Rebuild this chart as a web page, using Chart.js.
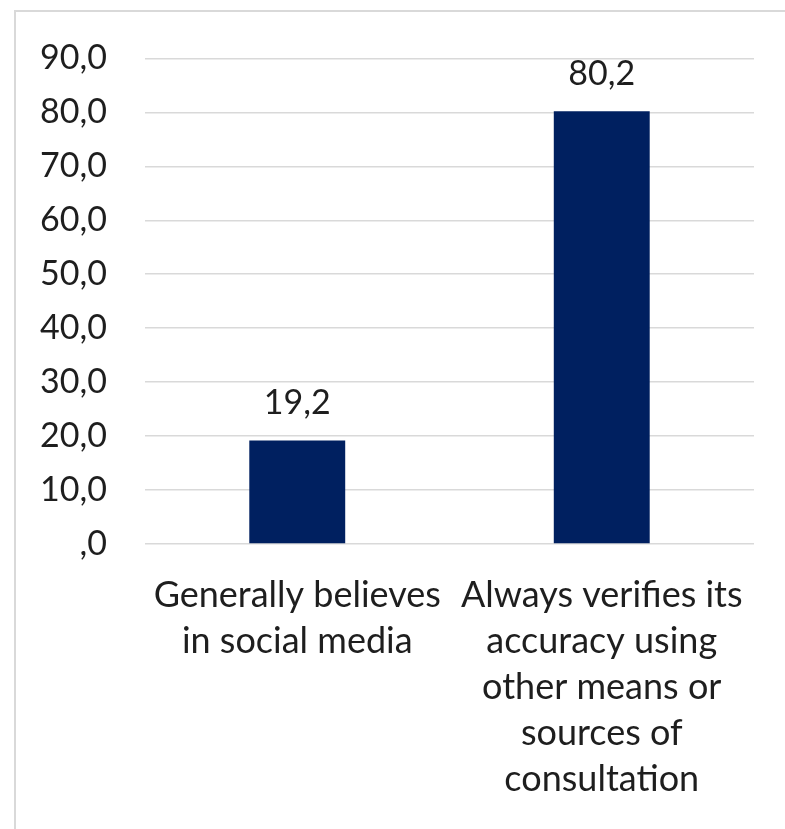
<!DOCTYPE html>
<html>
<head>
<meta charset="utf-8">
<script src="https://cdn.jsdelivr.net/npm/chart.js@4"></script>
<style>
  body { margin: 0; background: #fff; }
  #frame {
    position: absolute; left: 14px; top: 10px; width: 820px; height: 860px;
    border-left: 2px solid #d9d9d9; border-top: 2px solid #d9d9d9;
  }
  #wrap { position: absolute; left: 0; top: 0; width: 785px; height: 829px; overflow: hidden; }
</style>
</head>
<body>
<div id="wrap">
  <div id="frame"></div>
  <canvas id="chart" width="785" height="829" style="position:absolute;left:0;top:0;"></canvas>
</div>
<script>
let categories = [
    ["Generally believes", "in social media"],
    ["Always verifies its", "accuracy using", "other means or", "sources of", "consultation"]
];
let values = [19.2, 80.2];
let yTicks = [0, 10, 20, 30, 40, 50, 60, 70, 80, 90];

function fmt(v, d) {
    if (v === 0) return ',0';
    return v.toFixed(d).replace('.', ',');
}

let fontFam = "Lato, 'Liberation Sans', sans-serif";
let txtCol = '#1e1e1e';

// draws the value above each bar
let barLabels = {
    id: 'barLabels',
    afterDatasetsDraw: function(chart) {
        let ctx = chart.ctx;
        let meta = chart.getDatasetMeta(0);
        ctx.save();
        ctx.font = '34px ' + fontFam;
        ctx.fillStyle = txtCol;
        ctx.textAlign = 'center';
        ctx.textBaseline = 'middle';
        meta.data.forEach(function(bar, i) {
            ctx.fillText(fmt(values[i], 1), bar.x, bar.y - 37);
        });
        ctx.restore();
    }
};

var ctx = document.getElementById('chart').getContext('2d');
var chart = new Chart(ctx, {
    type: 'bar',
    data: {
        labels: categories,
        datasets: [{
            data: values,
            backgroundColor: '#002060',
            borderWidth: 0,
            categoryPercentage: 1,
            barPercentage: 0.315
        }]
    },
    options: {
        responsive: false,
        animation: false,
        layout: { padding: { left: 0, right: 31, top: 55, bottom: 0 } },
        plugins: {
            legend: { display: false },
            tooltip: { enabled: false }
        },
        scales: {
            x: {
                grid: { display: false },
                border: { display: false },
                ticks: {
                    color: txtCol,
                    font: { family: fontFam, size: 36, lineHeight: 1.28 },
                    padding: 20,
                    maxRotation: 0,
                    autoSkip: false
                },
                afterFit: function(s) { s.height = 829 - 544; }
            },
            y: {
                min: 0,
                max: 90,
                afterBuildTicks: function(s) { s.ticks = yTicks.map(function(v) { return { value: v }; }); },
                grid: { color: '#d9d9d9', lineWidth: 1.5, drawTicks: false },
                border: { display: false },
                ticks: {
                    color: txtCol,
                    font: { family: fontFam, size: 34 },
                    padding: 38,
                    callback: function(v) { return fmt(v, 1); }
                },
                afterFit: function(s) { s.width = 145; }
            }
        }
    },
    plugins: [barLabels]
});
</script>
</body>
</html>
